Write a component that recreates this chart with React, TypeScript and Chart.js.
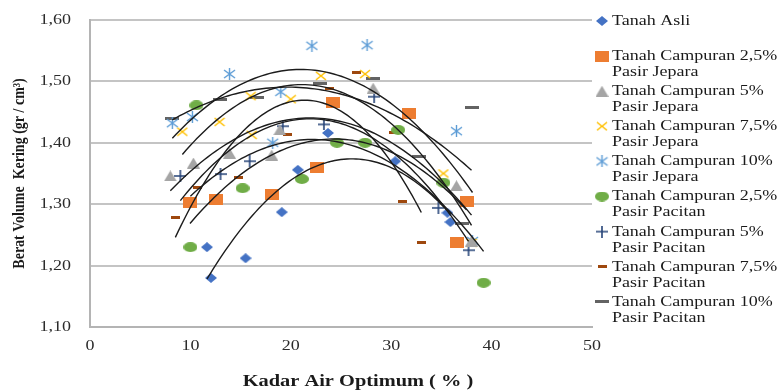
import { useEffect, useRef } from "react";
import { Chart, registerables } from "chart.js";

Chart.register(...registerables);

// ---- axis ticks ----
const xTicks = [0, 10, 20, 30, 40, 50];
const xTickLabels = ["0", "10", "20", "30", "40", "50"];
const yTicks = [1.1, 1.2, 1.3, 1.4, 1.5, 1.6];
const yTickLabels = ["1,10", "1,20", "1,30", "1,40", "1,50", "1,60"];

const xTitle = "Kadar Air Optimum ( % )";
const yTitle = "Berat Volume  Kering (gr / cm³)";

// ---- series names (legend, multi-line) ----
const seriesNames: string[][] = [
  ["Tanah Asli"],
  ["Tanah Campuran 2,5%", "Pasir Jepara"],
  ["Tanah Campuran 5%", "Pasir Jepara"],
  ["Tanah Campuran 7,5%", "Pasir Jepara"],
  ["Tanah Campuran 10%", "Pasir Jepara"],
  ["Tanah Campuran 2,5%", "Pasir Pacitan"],
  ["Tanah Campuran 5%", "Pasir Pacitan"],
  ["Tanah Campuran 7,5%", "Pasir Pacitan"],
  ["Tanah Campuran 10%", "Pasir Pacitan"],
];

// ---- data (water content %, dry density) ----
const xAsli = [11.65, 12.05, 15.5, 19.1, 20.7, 23.7, 30.4, 35.6, 35.9];
const yAsli = [1.23, 1.18, 1.212, 1.287, 1.356, 1.416, 1.37, 1.286, 1.271];

const xJep25 = [9.96, 12.55, 18.1, 22.6, 24.2, 31.8, 36.6, 37.5];
const yJep25 = [1.302, 1.308, 1.315, 1.359, 1.465, 1.447, 1.238, 1.305];

const xJep5 = [8.0, 10.3, 13.9, 18.1, 18.9, 28.2, 36.5, 38.0];
const yJep5 = [1.346, 1.367, 1.383, 1.38, 1.421, 1.489, 1.33, 1.24];

const xJep75 = [9.2, 12.9, 16.0, 16.1, 20.0, 23.0, 27.4, 35.2, 38.0];
const yJep75 = [1.418, 1.434, 1.476, 1.413, 1.471, 1.509, 1.512, 1.35, 1.237];

const xJep10 = [8.2, 10.2, 13.9, 18.2, 19.0, 22.1, 27.6, 36.5, 38.1];
const yJep10 = [1.432, 1.442, 1.512, 1.4, 1.483, 1.558, 1.559, 1.419, 1.24];

const xPac25 = [10.0, 10.6, 15.2, 21.1, 24.6, 27.4, 30.7, 35.2, 39.2];
const yPac25 = [1.23, 1.461, 1.326, 1.341, 1.4, 1.4, 1.421, 1.335, 1.172];

const xPac5 = [9.0, 13.0, 15.9, 19.2, 23.3, 28.3, 34.7, 37.7];
const yPac5 = [1.346, 1.349, 1.37, 1.427, 1.43, 1.475, 1.294, 1.225];

const xPac75 = [8.5, 10.7, 14.8, 19.7, 23.9, 26.5, 30.2, 31.1, 33.0];
const yPac75 = [1.279, 1.328, 1.343, 1.413, 1.489, 1.515, 1.416, 1.305, 1.237];

const xPac10 = [8.2, 12.9, 16.6, 22.9, 28.2, 32.8, 37.1, 38.0];
const yPac10 = [1.44, 1.47, 1.473, 1.497, 1.505, 1.378, 1.268, 1.458];

const seriesX = [xAsli, xJep25, xJep5, xJep75, xJep10, xPac25, xPac5, xPac75, xPac10];
const seriesY = [yAsli, yJep25, yJep5, yJep75, yJep10, yPac25, yPac5, yPac75, yPac10];

// ---- marker styles ----
type MarkerKind = "diamond" | "square" | "triangle" | "xmark" | "asterisk" | "circle" | "plus" | "dashS" | "dashL";
const markerKinds: MarkerKind[] = ["diamond", "square", "triangle", "xmark", "asterisk", "circle", "plus", "dashS", "dashL"];
const markerColors = ["#4472C4", "#ED7D31", "#A5A5A5", "#FFC000", "#5B9BD5", "#70AD47", "#264478", "#9E480E", "#636363"];

const SERIF = '"Liberation Serif", "Times New Roman", serif';

function makeMarker(kind: MarkerKind, color: string): HTMLCanvasElement {
  const sizes: Record<MarkerKind, [number, number]> = {
    diamond: [12, 10],
    square: [14, 11],
    triangle: [13, 11],
    xmark: [12, 10],
    asterisk: [13, 12],
    circle: [14, 10],
    plus: [12, 12],
    dashS: [9, 3],
    dashL: [14, 3],
  };
  const [w, h] = sizes[kind];
  const c = document.createElement("canvas");
  c.width = w;
  c.height = h;
  const g = c.getContext("2d")!;
  g.fillStyle = color;
  g.strokeStyle = color;
  g.lineWidth = 1.6;
  g.beginPath();
  switch (kind) {
    case "diamond":
      g.moveTo(w / 2, 0);
      g.lineTo(w, h / 2);
      g.lineTo(w / 2, h);
      g.lineTo(0, h / 2);
      g.closePath();
      g.fill();
      break;
    case "square":
      g.fillRect(0, 0, w, h);
      break;
    case "triangle":
      g.moveTo(w / 2, 0);
      g.lineTo(w, h);
      g.lineTo(0, h);
      g.closePath();
      g.fill();
      break;
    case "xmark":
      g.moveTo(1, 1);
      g.lineTo(w - 1, h - 1);
      g.moveTo(w - 1, 1);
      g.lineTo(1, h - 1);
      g.stroke();
      break;
    case "asterisk":
      g.lineWidth = 1.4;
      g.moveTo(1, 2);
      g.lineTo(w - 1, h - 2);
      g.moveTo(w - 1, 2);
      g.lineTo(1, h - 2);
      g.moveTo(w / 2, 0);
      g.lineTo(w / 2, h);
      g.stroke();
      break;
    case "circle":
      g.ellipse(w / 2, h / 2, w / 2, h / 2, 0, 0, Math.PI * 2);
      g.fill();
      break;
    case "plus":
      g.moveTo(w / 2, 0);
      g.lineTo(w / 2, h);
      g.moveTo(0, h / 2);
      g.lineTo(w, h / 2);
      g.stroke();
      break;
    case "dashS":
    case "dashL":
      g.fillRect(0, 0, w, h);
      break;
  }
  return c;
}

// least-squares 2nd order polynomial trendline (like a spreadsheet trendline)
function quadFit(xs: number[], ys: number[]): [number, number, number] {
  const S = [0, 0, 0, 0, 0];
  let t0 = 0, t1 = 0, t2 = 0;
  for (let i = 0; i < xs.length; i++) {
    const x = xs[i], y = ys[i];
    let p = 1;
    for (let k = 0; k < 5; k++) {
      S[k] += p;
      p *= x;
    }
    t0 += y;
    t1 += x * y;
    t2 += x * x * y;
  }
  const A = [
    [S[0], S[1], S[2], t0],
    [S[1], S[2], S[3], t1],
    [S[2], S[3], S[4], t2],
  ];
  for (let i = 0; i < 3; i++) {
    let piv = i;
    for (let r = i + 1; r < 3; r++) if (Math.abs(A[r][i]) > Math.abs(A[piv][i])) piv = r;
    [A[i], A[piv]] = [A[piv], A[i]];
    for (let r = 0; r < 3; r++) {
      if (r === i) continue;
      const f = A[r][i] / A[i][i];
      for (let c = i; c < 4; c++) A[r][c] -= f * A[i][c];
    }
  }
  return [A[0][3] / A[0][0], A[1][3] / A[1][1], A[2][3] / A[2][2]];
}

function stretchText(ctx: CanvasRenderingContext2D, text: string, x: number, y: number, align: string, font: string, sx: number) {
  ctx.save();
  ctx.font = font;
  ctx.textBaseline = "middle";
  ctx.textAlign = "left";
  const w = ctx.measureText(text).width * sx;
  const left = align === "right" ? x - w : align === "center" ? x - w / 2 : x;
  ctx.translate(left, y);
  ctx.scale(sx, 1);
  ctx.fillText(text, 0, 0);
  ctx.restore();
}

export default function App() {
  const ref = useRef<HTMLCanvasElement | null>(null);

  useEffect(() => {
    if (!ref.current) return;
    const markers = markerKinds.map((k, i) => makeMarker(k, markerColors[i]));

    const pointSets = seriesX.map((xs, i) => ({
      label: seriesNames[i].join(" "),
      data: xs.map((x, j) => ({ x, y: seriesY[i][j] })),
      pointStyle: markers[i] as any,
      pointRadius: 6,
      showLine: false,
      order: 1,
    }));

    const trendSets = seriesX.map((xs, i) => {
      const [a, b, c] = quadFit(xs, seriesY[i]);
      const lo = Math.min(...xs);
      const hi = Math.max(...xs);
      const n = 80;
      const pts = [];
      for (let k = 0; k <= n; k++) {
        const x = lo + ((hi - lo) * k) / n;
        pts.push({ x, y: a + b * x + c * x * x });
      }
      return {
        label: "trend " + i,
        data: pts,
        showLine: true,
        pointRadius: 0,
        borderColor: "#1c1c1c",
        borderWidth: 1.4,
        fill: false,
        order: 0,
      };
    });

    const textPlugin = {
      id: "customText",
      afterDraw(chart: any) {
        const ctx: CanvasRenderingContext2D = chart.ctx;
        const xs = chart.scales.x;
        const ys = chart.scales.y;
        ctx.save();
        ctx.fillStyle = "#2b2b2b";
        yTicks.forEach((v, i) =>
          stretchText(ctx, yTickLabels[i], 71, ys.getPixelForValue(v), "right", `15px ${SERIF}`, 1.2)
        );
        xTicks.forEach((v, i) =>
          stretchText(ctx, xTickLabels[i], xs.getPixelForValue(v), 346, "center", `15px ${SERIF}`, 1.2)
        );
        ctx.fillStyle = "#1a1a1a";
        stretchText(ctx, xTitle, 358, 382, "center", `bold 17px ${SERIF}`, 1.2);

        ctx.save();
        ctx.translate(20, (ys.top + ys.bottom) / 2);
        ctx.rotate(-Math.PI / 2);
        ctx.scale(1, 1.2);
        ctx.font = `bold 14px ${SERIF}`;
        ctx.textAlign = "center";
        ctx.textBaseline = "middle";
        ctx.fillText(yTitle, 0, 0);
        ctx.restore();

        // legend
        const top = 21;
        const step = 35.1;
        seriesNames.forEach((lines, i) => {
          const y = top + step * i;
          const m = markers[i];
          ctx.drawImage(m, 602 - m.width / 2, y - m.height / 2);
          lines.forEach((ln, j) => {
            stretchText(ctx, ln, 612, y + j * 16, "left", `15px ${SERIF}`, 1.2);
          });
        });
        ctx.restore();
      },
    };

    const chart = new Chart(ref.current, {
      type: "scatter",
      data: { datasets: [...pointSets, ...trendSets] as any },
      options: {
        animation: false,
        responsive: false,
        layout: { padding: { top: 20, right: 192, left: 0, bottom: 0 } },
        plugins: { legend: { display: false }, tooltip: { enabled: false } },
        scales: {
          x: {
            type: "linear",
            min: 0,
            max: 50,
            ticks: { stepSize: 10, display: false },
            grid: { display: false, drawTicks: false },
            border: { display: true, color: "#b4b4b4", width: 2 },
            afterFit: (s: any) => {
              s.height = 65;
            },
          },
          y: {
            type: "linear",
            min: 1.1,
            max: 1.6,
            ticks: { stepSize: 0.1, display: false },
            grid: { color: "#c4c4c4", lineWidth: 2, drawTicks: false },
            border: { display: true, color: "#b4b4b4", width: 2 },
            afterFit: (s: any) => {
              s.width = 90;
            },
          },
        },
      },
      plugins: [textPlugin],
    });

    return () => chart.destroy();
  }, []);

  return (
    <div style={{ position: "fixed", left: 0, top: 0, width: 784, height: 392, background: "#fff" }}>
      <canvas ref={ref} width={784} height={392} style={{ display: "block" }} />
    </div>
  );
}
